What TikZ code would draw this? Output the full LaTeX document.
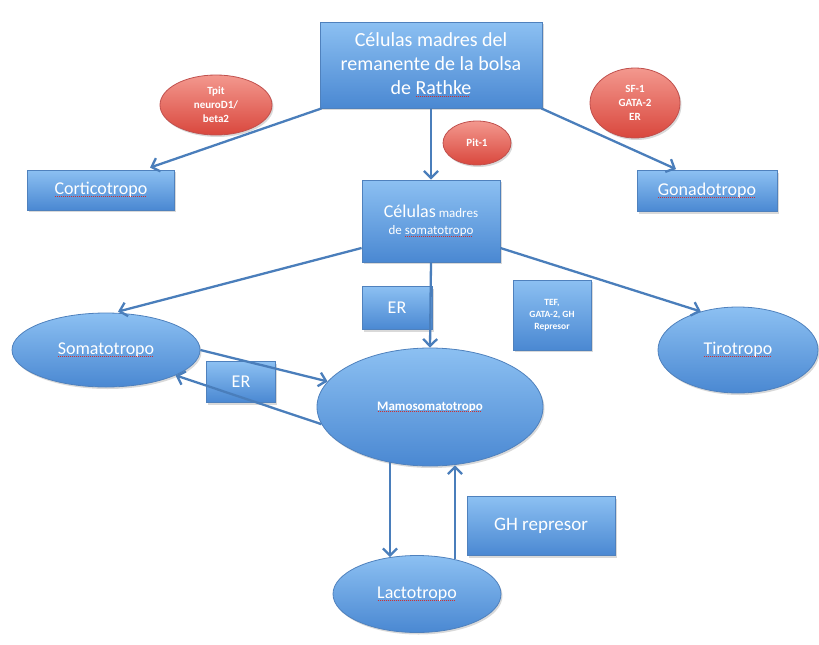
\documentclass[tikz,border=0pt]{standalone}
\usepackage{fontspec}
\setmainfont{Carlito}
\usetikzlibrary{shapes.geometric,arrows.meta,shadows}
\definecolor{boxtop}{HTML}{8CC0F2}
\definecolor{boxbot}{HTML}{4A88D2}
\definecolor{boxline}{HTML}{4F81BD}
\definecolor{redtop}{HTML}{F3988E}
\definecolor{redbot}{HTML}{D9473D}
\definecolor{redline}{HTML}{C0504D}
\definecolor{arrcol}{HTML}{4A7EBB}
\definecolor{spell}{HTML}{D03030}
\newsavebox\sqbox
\newcommand\squig[1]{\sbox\sqbox{#1}\rlap{\usebox\sqbox}\textcolor{spell}{\lower0.3ex\hbox to \wd\sqbox{\leaders\hbox to 2pt{\hss\vrule width 1.3pt height 0.9pt depth 0pt\hss}\hfill}}}
\tikzset{
  basebox/.style={draw=boxline, line width=0.8pt, top color=boxtop, bottom color=boxbot,
    text=white, align=center, inner sep=0pt,
    drop shadow={shadow xshift=1.5pt, shadow yshift=-2pt, opacity=0.3}},
  rbox/.style={basebox, rectangle},
  cell/.style={basebox, ellipse},
  tf/.style={draw=redline, line width=0.8pt, top color=redtop, bottom color=redbot,
    ellipse, text=white, align=center, inner sep=0pt, font=\fontsize{11}{14}\selectfont\bfseries,
    drop shadow={shadow xshift=1.5pt, shadow yshift=-2pt, opacity=0.3}},
  arr/.style={draw=arrcol, line width=2.3pt, -{Straight Barb[length=7pt,width=14pt]}},
}
\begin{document}
\begin{tikzpicture}[x=1pt,y=-1pt]
\useasboundingbox (0,0) rectangle (819,645);
% nodes
\node[rbox, minimum width=222pt, minimum height=86pt, font=\fontsize{20}{24}\selectfont] (top) at (431,65)
  {Células madres del\\remanente de la bolsa\\de \squig{Rathke}};
\node[tf, minimum width=112pt, minimum height=60pt] (tpit) at (216,105) {Tpit\\neuroD1/\\beta2};
\node[tf, minimum width=68pt, minimum height=44pt] (pit) at (477,143) {Pit-1};
\node[tf, minimum width=90pt, minimum height=70pt] (sf) at (635,103) {SF-1\\GATA-2\\ER};
\node[rbox, minimum width=147pt, minimum height=40pt, font=\fontsize{18}{20}\selectfont] (cort) at (101,190) {\squig{Corticotropo}};
\node[rbox, minimum width=140pt, minimum height=41pt, font=\fontsize{18}{20}\selectfont] (gona) at (707,191) {\squig{Gonadotropo}};
\node[rbox, minimum width=138pt, minimum height=82pt, font=\fontsize{13}{17}\selectfont] (stem) at (431,221)
  {{\fontsize{18}{20}\selectfont Células} madres\\de \squig{somatotropo}};
\node[rbox, minimum width=70pt, minimum height=43pt, font=\fontsize{18}{20}\selectfont] (er1) at (397,308) {ER};
\node[rbox, minimum width=78pt, minimum height=70pt, font=\fontsize{9.5}{12}\selectfont\bfseries] (tef) at (552,315) {TEF,\\GATA-2, GH\\Represor};
\node[cell, minimum width=188pt, minimum height=74pt, font=\fontsize{18}{20}\selectfont] (soma) at (106,350) {\squig{Somatotropo}};
\node[rbox, minimum width=69pt, minimum height=41pt, font=\fontsize{18}{20}\selectfont] (er2) at (241,382) {ER};
\node[cell, minimum width=226pt, minimum height=118pt, font=\fontsize{13}{14}\selectfont\bfseries] (mamo) at (430,407) {\squig{Mamosomatotropo}};
\node[cell, minimum width=160pt, minimum height=86pt, font=\fontsize{18}{20}\selectfont] (tiro) at (738,350) {\squig{Tirotropo}};
\node[rbox, minimum width=148pt, minimum height=59pt, font=\fontsize{19}{21}\selectfont] (ghr) at (541,526) {GH represor};
\node[cell, minimum width=168pt, minimum height=77pt, font=\fontsize{18}{20}\selectfont] (lacto) at (417,594) {\squig{Lactotropo}};
% connectors
\draw[arr] ([xshift=2pt]top.south west) -- ([xshift=49pt,yshift=2pt]cort.north);
\draw[arr] (top.south) -- (stem.north);
\draw[arr] ([xshift=-1pt]top.south east) -- ([xshift=-31pt,yshift=1pt]gona.north);
\draw[arr] ([yshift=-27pt]stem.west) -- ([xshift=12pt,yshift=1pt]soma.north);
\draw[arr] ([yshift=-27pt]stem.east) -- (tiro.134);
\draw[arr] (stem.south) -- (mamo.north);
\draw[arr] (soma.east) -- (mamo.166);
\draw[arr] (mamo.189) -- (soma.340);
\draw[arr] ([xshift=-40pt,yshift=4pt]mamo.south) -- ([xshift=-27pt,yshift=-2pt]lacto.north);
\draw[arr] ([xshift=38pt,yshift=-4pt]lacto.north) -- ([xshift=25pt,yshift=1pt]mamo.south);
\end{tikzpicture}
\end{document}
